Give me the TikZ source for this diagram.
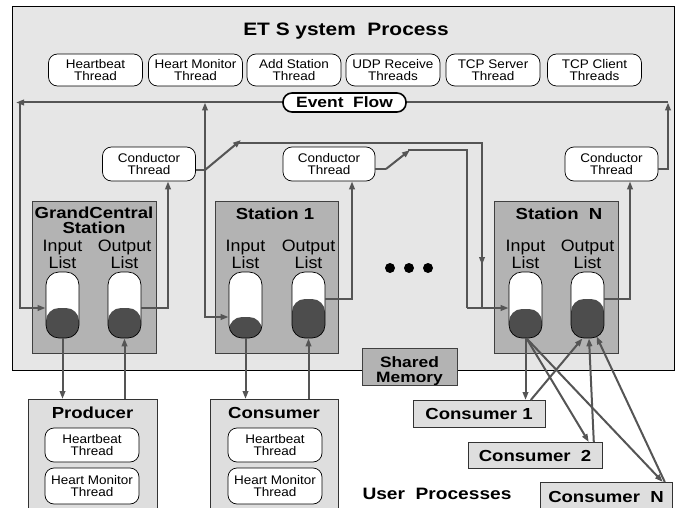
\documentclass[tikz,border=0pt]{standalone}
\usepackage{fontspec}
\setmainfont{Liberation Sans}[FakeStretch=1.08,BoldFeatures={FakeStretch=1.16}]
\usetikzlibrary{arrows.meta}
\definecolor{bgA}{HTML}{E6E6E6}
\definecolor{stA}{HTML}{B3B3B3}
\definecolor{lnA}{HTML}{555555}
\definecolor{dkA}{HTML}{4D4D4D}
\definecolor{upA}{HTML}{DEDEDE}
\tikzset{
  thr/.style={draw=black, fill=white, rounded corners=9pt, minimum width=94pt, minimum height=32pt, inner sep=0pt, align=center, font=\fontsize{12.5}{12}\selectfont, line width=0.7pt},
  stbox/.style={draw=black!75, fill=stA, line width=0.8pt, inner sep=0pt, anchor=north west},
  upbox/.style={draw=black!80, fill=upA, line width=0.8pt, inner sep=0pt, anchor=north west},
  pill/.style={draw=black, fill=white, rounded corners=13pt, minimum width=33pt, minimum height=66pt, inner sep=0pt, line width=0.7pt,
     path picture={\fill[dkA] ([yshift=-2pt]path picture bounding box.south west) rectangle ([yshift=#1]path picture bounding box.south east);}},
  conn/.style={draw=lnA, line width=2pt},
  tip/.tip={Triangle[length=8pt,width=5.5pt]},
  arr/.style={conn, -tip},
  lbl/.style={inner sep=0pt, anchor=base, align=center},
  bt/.style={lbl, font=\bfseries\fontsize{16}{15}\selectfont},
  lt/.style={lbl, font=\fontsize{16.5}{15}\selectfont},
  dotn/.style={circle, fill=black, minimum size=10pt, inner sep=0pt}
}
\begin{document}
\begin{tikzpicture}[x=1pt,y=-1pt]
\useasboundingbox (0,0) rectangle (677,508);
% outer process box
\node[draw=black, fill=bgA, line width=0.8pt, minimum width=662pt, minimum height=364pt, inner sep=0pt, anchor=north west] (etsys) at (12,6) {};
\node[lbl, font=\bfseries\fontsize{18}{18}\selectfont] (title) at (346,36) {ET S ystem\ \ Process};
% thread row
\node[thr] (t1) at (95.5,70) {Heartbeat\\Thread};
\node[thr] (t2) at (195.5,70) {Heart Monitor\\Thread};
\node[thr] (t3) at (294,70) {Add Station\\Thread};
\node[thr] (t4) at (393,70) {UDP Receive\\Threads};
\node[thr] (t5) at (493,70) {TCP Server\\Thread};
\node[thr] (t6) at (594.5,70) {TCP Client\\Threads};
% coordinates of event flow line
\coordinate (eR) at (668,102.5);
\coordinate (eL) at (16,102.5);
\coordinate (gL) at (20,102.5);
\coordinate (sA) at (205,102.5);
% station boxes
\node[stbox, minimum width=124pt, minimum height=152pt] (gcs) at (32,201) {};
\node[stbox, minimum width=123pt, minimum height=152pt] (st1) at (215,201) {};
\node[stbox, minimum width=124pt, minimum height=152pt] (stn) at (494,201) {};
\node[bt] (gcst) at (94,233) {GrandCentral\\Station};
\node[bt] (st1t) at (275,219) {Station 1};
\node[bt] (stnt) at (559,219) {Station\ \ N};
% list labels
\node[lt] (gil) at (62.5,268) {Input\\List};
\node[lt] (gol) at (124.5,268) {Output\\List};
\node[lt] (s1il) at (245.5,268) {Input\\List};
\node[lt] (s1ol) at (308.5,268) {Output\\List};
\node[lt] (snil) at (525.5,268) {Input\\List};
\node[lt] (snol) at (587.5,268) {Output\\List};
% lists
\node[pill=30pt] (gin) at (62.5,305) {};
\node[pill=30pt] (gout) at (124.5,305) {};
\node[pill=21pt] (s1in) at (245.5,305) {};
\node[pill=39pt] (s1out) at (308.5,305) {};
\node[pill=29pt] (snin) at (525.5,305) {};
\node[pill=39pt] (snout) at (587.5,305) {};
% conductor threads
\node[thr, minimum width=93pt, minimum height=34pt] (c1) at (149,164) {Conductor\\Thread};
\node[thr, minimum width=92pt, minimum height=34pt] (c2) at (329,164) {Conductor\\Thread};
\node[thr, minimum width=93pt, minimum height=34pt] (c3) at (611.5,164) {Conductor\\Thread};
% dots
\node[dotn] (d1) at (390,268) {};
\node[dotn] (d2) at (409,268) {};
\node[dotn] (d3) at (428,268) {};
% event flow lines
\draw[arr] (eR) -- (eL);
\draw[arr] (gL) -- (20,308) -- ([yshift=-3pt]gin.west);
\draw[conn, tip-tip] (sA) -- (205,317) -- ([yshift=-12pt]s1in.west);
\draw[arr] ([yshift=-3pt]gout.east) -| ([xshift=19pt]c1.south);
\draw[arr] ([yshift=6pt]s1out.east) -| ([xshift=23pt]c2.south);
\draw[arr] ([yshift=6pt]snout.east) -| ([xshift=18.5pt]c3.south);
\draw[arr] ([yshift=-5pt]c3.east) -| (eR);
% switch 1
\coordinate (w1) at (205,170);
\coordinate (w1t) at (241,140);
\draw[conn] ([yshift=-6pt]c1.east) -- (w1);
\draw[arr] (w1) -- (w1t);
\draw[arr] (238,143) -| (482,265);
\draw[conn] (482,262) -- (482,308);
% switch 2
\coordinate (w2) at (386,169);
\coordinate (w2t) at (410,150);
\draw[conn] ([yshift=-5pt]c2.east) -- (w2);
\draw[arr] (w2) -- (w2t);
\draw[conn] (408,150) -| (467,308);
\draw[arr] (467,308) -- ([yshift=-3pt]snin.west);
% event flow label
\node[draw=black, fill=white, line width=1.6pt, rounded corners=9pt, minimum width=123pt, minimum height=19pt, inner sep=0pt, font=\bfseries\fontsize{15}{15}\selectfont] (ev) at (344.5,102.5) {Event\ \ Flow};
% shared memory
\node[stbox, minimum width=95pt, minimum height=37pt] (shm) at (362,348) {};
\node[bt, font=\bfseries\fontsize{15}{15}\selectfont] (shmt) at (409.5,382) {Shared\\Memory};
% user processes
\node[upbox, minimum width=129pt, minimum height=115pt] (prod) at (28,399) {};
\node[upbox, minimum width=128pt, minimum height=115pt] (cons) at (210,399) {};
\node[bt] (prodt) at (92.5,418) {Producer};
\node[bt] (const) at (274,418) {Consumer};
\node[thr, minimum width=94pt, minimum height=34pt] (p1) at (92,445) {Heartbeat\\Thread};
\node[thr, minimum width=94pt, minimum height=36pt] (p2) at (92,486) {Heart Monitor\\Thread};
\node[thr, minimum width=94pt, minimum height=34pt] (q1) at (275,445) {Heartbeat\\Thread};
\node[thr, minimum width=94pt, minimum height=36pt] (q2) at (275,486) {Heart Monitor\\Thread};
\node[upbox, minimum width=132pt, minimum height=27pt] (cb1) at (413,400) {};
\node[upbox, minimum width=134pt, minimum height=26pt] (cb2) at (468,442) {};
\node[upbox, minimum width=132pt, minimum height=30pt] (cbn) at (540,482) {};
\node[bt] (cb1t) at (479,419) {Consumer 1};
\node[bt] (cb2t) at (535,461) {Consumer\ \ 2};
\node[bt] (cbnt) at (606,502) {Consumer\ \ N};
\node[bt, font=\bfseries\fontsize{16.5}{16}\selectfont] (upt) at (437,499) {User\ \ Processes};
% vertical links
\draw[arr] (gin.south) -- (gin.south |- prod.north);
\draw[arr] (gout.south |- prod.north) -- (gout.south);
\draw[arr] (s1in.south) -- (s1in.south |- cons.north);
\draw[arr] (s1out.south |- cons.north) -- (s1out.south);
\draw[arr] (snin.south) -- (snin.south |- cb1.north);
\draw[arr] ([xshift=1pt]snin.south) -- ([xshift=-14pt]cb2.north east);
\draw[arr] ([xshift=1pt]snin.south) -- ([xshift=-10pt]cbn.north east);
\draw[arr] ([xshift=-15pt]cb1.north east) -- ([xshift=-5pt]snout.south);
\draw[arr] ([xshift=-9pt]cb2.north east) -- ([xshift=1.5pt]snout.south);
\draw[arr] ([xshift=-8pt]cbn.north east) -- ([xshift=9pt,yshift=2pt]snout.south);
\end{tikzpicture}
\end{document}
